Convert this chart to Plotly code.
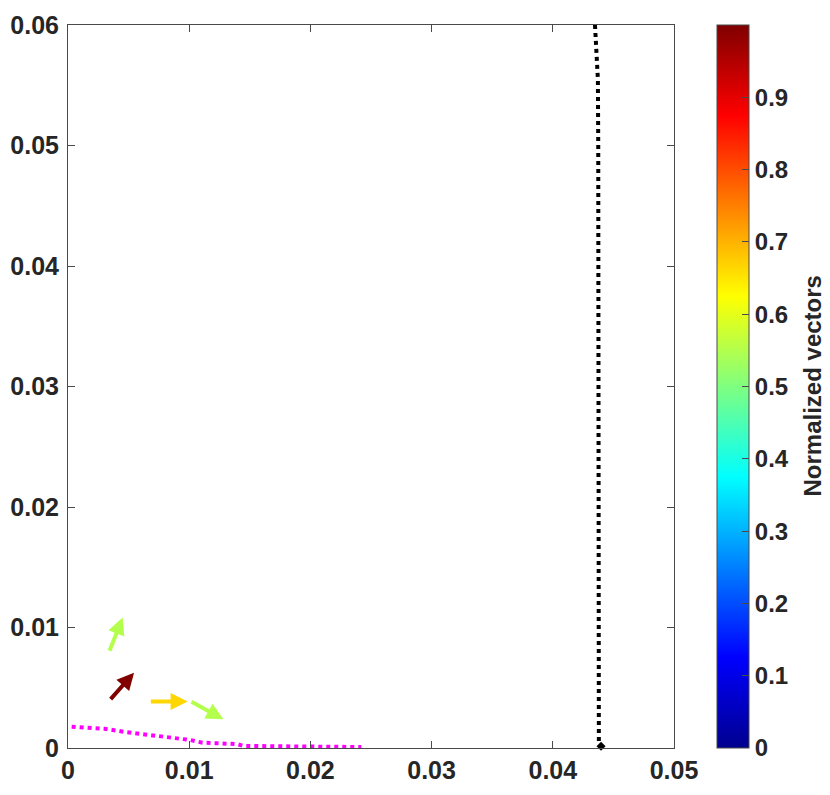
import plotly.graph_objects as go
from plotly.colors import sample_colorscale

# MATLAB-style jet colour map
jet = [[0.0, "rgb(0,0,143)"], [0.125, "rgb(0,0,255)"], [0.375, "rgb(0,255,255)"],
       [0.625, "rgb(255,255,0)"], [0.875, "rgb(255,0,0)"], [1.0, "rgb(128,0,0)"]]

# black dotted curve (near-vertical)
black_x = [0.04348, 0.04360, 0.04372, 0.04375, 0.04375, 0.04375, 0.04375, 0.04374, 0.04380]
black_y = [0.0600, 0.0580, 0.0555, 0.0500, 0.0400, 0.0300, 0.0200, 0.0100, 0.0003]
end_x = [0.04398]
end_y = [0.00015]

# magenta dotted curve (near the floor)
mag_x = [0.0003, 0.0030, 0.0046, 0.0084, 0.0101, 0.0111, 0.0139, 0.0145, 0.0200, 0.0242]
mag_y = [0.00177, 0.00160, 0.00135, 0.00089, 0.00066, 0.00044, 0.00033, 0.00017, 0.00010, 0.00008]

# arrows: tail positions, head positions, normalised value
arr_x0 = [0.00338, 0.00341, 0.00671, 0.01007]
arr_y0 = [0.00794, 0.00393, 0.00385, 0.00390]
arr_x1 = [0.00451, 0.00545, 0.00987, 0.01282]
arr_y1 = [0.01082, 0.00625, 0.00385, 0.00238]
arr_val = [0.55, 1.0, 0.665, 0.55]

cbar_ticks = [0, 0.1, 0.2, 0.3, 0.4, 0.5, 0.6, 0.7, 0.8, 0.9]
cbar_title = "Normalized vectors"

FONT = "Liberation Sans, Arial, sans-serif"
AXC = "#4a4a4a"
TXT = "#262626"

fig = go.Figure()

fig.add_trace(go.Scatter(
    x=black_x, y=black_y, mode="lines",
    line=dict(color="black", width=4, dash="dot"),
    showlegend=False, hoverinfo="skip",
))
fig.add_trace(go.Scatter(
    x=end_x, y=end_y, mode="markers",
    marker=dict(color="black", size=7, symbol="diamond"),
    showlegend=False, hoverinfo="skip", cliponaxis=False,
))
fig.add_trace(go.Scatter(
    x=mag_x, y=mag_y, mode="lines",
    line=dict(color="#FF00FF", width=4, dash="dot"),
    showlegend=False, hoverinfo="skip",
))

# invisible trace carrying the colour bar
fig.add_trace(go.Scatter(
    x=arr_x0, y=arr_y0, mode="markers",
    marker=dict(
        color=arr_val, cmin=0, cmax=1, colorscale=jet, size=1, opacity=0,
        showscale=True,
        colorbar=dict(
            x=(717 - 68) / 606, xanchor="left", xpad=0,
            y=0.5, yanchor="middle", ypad=0, len=1,
            thickness=32, outlinecolor=AXC, outlinewidth=1,
            tickvals=cbar_ticks, ticks="inside", ticklen=7, tickcolor=AXC,
            tickfont=dict(family=FONT, size=24, color=TXT, weight="bold"),
        ),
    ),
    showlegend=False, hoverinfo="skip",
))

# colour bar label placed by hand, like MATLAB's ylabel on the colorbar
fig.add_annotation(
    text=cbar_title, xref="paper", yref="paper", x=(812 - 68) / 606, y=0.5,
    xanchor="center", yanchor="middle", textangle=-90, showarrow=False,
    font=dict(family=FONT, size=24, color=TXT, weight="bold"),
)

arrow_cols = sample_colorscale(jet, arr_val)
for x0, y0, x1, y1, c in zip(arr_x0, arr_y0, arr_x1, arr_y1, arrow_cols):
    fig.add_annotation(
        x=x1, y=y1, ax=x0, ay=y0, xref="x", yref="y", axref="x", ayref="y",
        text="", showarrow=True, arrowhead=2, arrowsize=0.85, arrowwidth=4,
        arrowcolor=c, standoff=0,
    )

axis_common = dict(
    showgrid=False, zeroline=False, showline=True, linecolor=AXC, linewidth=1,
    mirror="ticks", ticks="inside", ticklen=7, tickcolor=AXC, automargin=False,
    tickfont=dict(family=FONT, size=25, color=TXT, weight="bold"),
)

# page body has an 8px default margin, so the figure is trimmed by that much
fig.update_layout(
    width=822, height=787,
    margin=dict(l=60, r=156, t=17, b=47, autoexpand=False),
    paper_bgcolor="white", plot_bgcolor="white",
    xaxis=dict(range=[0, 0.05], tick0=0, dtick=0.01, **axis_common),
    yaxis=dict(range=[0, 0.06], tick0=0, dtick=0.01, ticklabelstandoff=3, **axis_common),
)

fig.write_html("out.html")
